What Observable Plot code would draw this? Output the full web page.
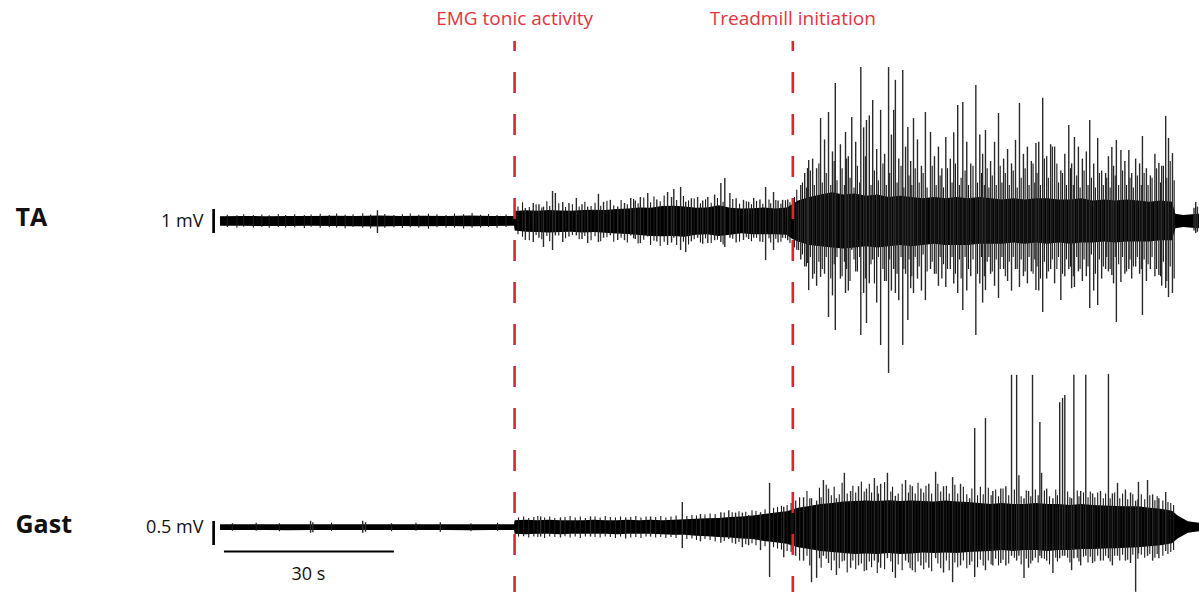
<!DOCTYPE html>
<html>
<head>
<meta charset="utf-8">
<script src="https://cdn.jsdelivr.net/npm/d3@7"></script>
<script src="https://cdn.jsdelivr.net/npm/@observablehq/plot@0.6"></script>
<style>
  html, body { margin: 0; padding: 0; background: #fff; }
  #chart svg { display: block; }
</style>
</head>
<body>
<div id="chart"></div>
<script>
// ---------- DATA (time in s, amplitude in mV) ----------
const channels = ["TA", "Gast"];
const scaleBarLabels = ["1 mV", "0.5 mV"];
const timeBarLabel = "30 s";
const eventTimes = [51.9, 101.0];
const eventLabels = ["EMG tonic activity", "Treadmill initiation"];

// envelope of the dense trace core: [time, upper, lower]
const taEnvelope = [
  [0,0.2,-0.2],[4,0.21,-0.2],[8,0.2,-0.21],[12,0.21,-0.21],[16,0.21,-0.2],[20,0.22,-0.21],[24,0.21,-0.22],
  [28,0.23,-0.23],[32,0.21,-0.21],[36,0.22,-0.22],[40,0.21,-0.21],[44,0.23,-0.22],[48,0.21,-0.21],[51.9,0.21,-0.2],
  [52,0.42,-0.4],[54,0.45,-0.45],[56,0.43,-0.46],[58,0.46,-0.48],[60,0.44,-0.46],[62,0.43,-0.45],[64,0.46,-0.48],
  [66,0.47,-0.46],[68,0.46,-0.49],[70,0.5,-0.52],[72,0.52,-0.54],[74,0.56,-0.58],[76,0.55,-0.62],[78,0.62,-0.64],
  [80,0.64,-0.62],[82,0.6,-0.66],[84,0.55,-0.57],[86,0.56,-0.55],[88,0.66,-0.62],[90,0.55,-0.57],[92,0.52,-0.51],
  [94,0.53,-0.55],[96,0.56,-0.55],[98,0.52,-0.55],[100,0.56,-0.57],
  [101,0.7,-0.75],[102,0.85,-0.85],[104,1.0,-1.0],[106,1.1,-1.05],[108,1.2,-1.1],[110,1.1,-1.15],[112,1.15,-1.1],
  [114,1.05,-1.05],[116,1.1,-1.1],[118,1.0,-1.05],[120,1.05,-1.0],[122,1.0,-1.05],[124,0.95,-1.0],[126,1.0,-0.95],
  [128,0.95,-1.0],[130,1.0,-1.0],[132,0.95,-1.0],[134,1.0,-0.95],[136,0.95,-0.95],[138,0.9,-0.95],[140,0.95,-0.9],
  [142,0.9,-0.95],[144,0.95,-0.9],[146,0.95,-0.95],[148,0.9,-0.9],[150,0.9,-0.95],[152,0.95,-0.9],[154,0.85,-0.9],
  [156,0.9,-0.85],[158,0.85,-0.9],[160,0.9,-0.85],[162,0.85,-0.85],[164,0.8,-0.85],[166,0.85,-0.8],[168,0.8,-0.8],
  [168.6,0.3,-0.3],[170,0.25,-0.25],[171.5,0.28,-0.28],[172.8,0.3,-0.3]
];

// tall individual spikes: [time, peak up, peak down]
const taSpikes = [
  [27.7,0.45,-0.5],
  [53.8,0.54,-0.79],[55.2,0.75,-0.88],[56.2,0.7,-0.7],[57.0,0.6,-1.08],[58.6,1.25,-1.21],[59.1,1.17,-0.6],
  [60.4,0.79,-0.88],[61.5,0.75,-0.65],[62.8,0.96,-0.6],[63.8,0.7,-0.75],[64.8,0.6,-0.92],[66.7,1.13,-0.88],
  [67.6,0.8,-0.7],[68.8,0.88,-0.6],[70.1,0.6,-0.79],[71.3,0.75,-0.8],[72.4,0.96,-0.6],[73.2,0.85,-0.75],
  [74.1,1.0,-0.92],[75.4,1.17,-0.65],[77.0,0.9,-0.85],[78.9,1.21,-1.0],[79.6,1.0,-0.9],[80.0,1.33,-0.7],
  [81.2,1.42,-1.21],[82.1,0.8,-1.29],[83.1,0.95,-0.85],[84.2,1.0,-0.7],[85.1,0.85,-0.95],[86.0,1.0,-0.92],
  [87.2,1.1,-0.8],[88.3,1.58,-0.88],[89.0,1.79,-1.08],[89.9,1.17,-0.7],[91.0,0.95,-0.9],[92.3,0.88,-0.79],
  [93.2,0.8,-0.75],[94.1,0.96,-0.7],[95.2,0.9,-0.85],[96.2,1.42,-1.63],[97.6,1.21,-1.21],[98.4,0.85,-0.9],
  [99.2,0.88,-0.7],[100.1,0.9,-0.8],[102.0,0.75,-1.21],[103.6,2.21,-1.75],
  [103.8,2.54,-2.88],[105.9,4.29,-2.33],[107.3,4.54,-4.0],[108.5,5.75,-4.54],[110.3,3.71,-3.0],[111.4,4.33,-1.2],
  [113.0,6.42,-4.75],[114.0,4.21,-4.25],[115.1,5.04,-1.6],[116.5,4.63,-5.17],[117.9,6.42,-6.33],[118.8,4.63,-2.0],
  [119.1,5.88,-3.0],[120.4,6.29,-5.17],[121.3,3.92,-4.13],[122.3,4.29,-3.0],[124.4,4.54,-3.29],[125.3,3.71,-2.0],
  [128.0,3.5,-2.75],[130.1,4.83,-3.0],[131.0,4.96,-3.71],[133.3,5.67,-4.75],[135.0,3.79,-2.88],[137.3,4.5,-3.21],
  [140.3,3.38,-2.0],[141.0,4.92,-2.75],[143.9,3.25,-2.88],[145.1,5.13,-3.79],[148.3,2.1,-3.29],[149.7,4.0,-2.0],
  [150.7,3.5,-2.75],[153.4,4.21,-3.63],[154.8,3.46,-3.5],[156.2,2.0,-2.0],[157.3,3.08,-2.25],[158.1,3.38,-4.21],
  [158.9,2.96,-2.54],[160.3,2.96,-2.0],[162.7,3.54,-3.92],[165.6,2.42,-2.25],[166.8,4.38,-2.79],[167.3,3.46,-3.17],
  [168.0,2.83,-3.0],
  [102.4,1.5,-1.6],[103.1,2.0,-1.9],[104.5,2.6,-2.4],[105.2,2.2,-2.7],[106.6,3.4,-2.2],[108.0,2.9,-3.1],
  [109.4,3.2,-2.4],[110.8,2.7,-2.9],[112.1,3.3,-2.1],[113.5,3.9,-3.0],[114.5,4.4,-2.6],[115.8,3.0,-3.4],
  [117.2,2.8,-2.5],[118.4,3.6,-2.9],[119.7,2.6,-3.3],[120.9,3.1,-2.2],[121.8,2.5,-2.8],[123.0,3.4,-2.4],
  [123.7,2.3,-2.9],[126.0,2.7,-2.2],[126.7,3.1,-2.7],[127.3,2.2,-2.4],[128.8,2.6,-2.0],[129.4,3.7,-2.6],
  [131.7,3.3,-2.9],[132.4,2.4,-2.3],[134.0,3.6,-2.6],[134.5,2.8,-3.4],[135.9,2.5,-2.2],[136.6,3.3,-2.7],
  [138.2,2.6,-2.0],[138.9,3.0,-2.5],[139.6,2.4,-2.9],[141.7,2.8,-2.3],[142.4,3.1,-2.6],[143.1,2.5,-2.1],
  [144.4,3.3,-2.9],[145.8,2.7,-2.4],[146.5,3.2,-2.0],[147.2,3.1,-2.6],[149.0,2.8,-2.3],[150.2,2.4,-2.8],
  [151.4,3.1,-2.1],[152.1,2.6,-2.5],[152.8,2.9,-2.3],[154.1,2.4,-2.9],[155.5,2.1,-2.4],[156.7,2.7,-2.1],
  [157.6,2.3,-2.6],[159.6,2.5,-2.2],[160.8,2.0,-2.4],[161.5,2.6,-1.9],[162.2,2.4,-2.2],[163.4,2.2,-2.5],
  [164.1,1.9,-2.0],[164.9,2.8,-2.3],[166.1,2.3,-2.7],
  [171.8,0.55,-0.4],[172.1,0.79,-0.5],[172.4,0.6,-0.45]
];

// small dense activity around the core: [time, up, down]
const taFuzz = [
  [1.2,0.26,-0.25],[2.9,0.24,-0.28],[4.1,0.28,-0.24],[5.8,0.25,-0.27],[7.3,0.27,-0.25],[8.6,0.24,-0.28],[10.2,0.29,-0.25],
  [11.5,0.25,-0.27],[13.1,0.28,-0.26],[14.8,0.25,-0.29],[16.0,0.27,-0.24],[17.6,0.3,-0.28],[19.2,0.25,-0.26],
  [20.5,0.31,-0.27],[22.0,0.26,-0.3],[23.4,0.28,-0.25],[25.1,0.32,-0.28],[26.5,0.27,-0.31],[29.0,0.29,-0.28],
  [30.6,0.25,-0.26],[32.1,0.28,-0.29],[33.5,0.31,-0.26],[35.0,0.26,-0.28],[36.7,0.3,-0.32],[38.2,0.28,-0.26],
  [39.8,0.25,-0.28],[41.3,0.31,-0.27],[42.9,0.28,-0.31],[44.4,0.33,-0.28],[45.9,0.26,-0.27],[47.3,0.29,-0.25],
  [48.8,0.25,-0.28],[50.4,0.27,-0.25],
  [52.5,0.6,-0.55],[53.3,0.78,-0.66],[54.5,0.58,-0.8],[55.7,0.7,-0.58],[56.7,0.56,-0.76],[57.6,0.82,-0.62],
  [58.1,0.62,-0.84],[59.7,0.74,-0.6],[60.9,0.58,-0.72],[62.1,0.7,-0.58],[63.3,0.6,-0.76],[64.3,0.8,-0.62],
  [65.4,0.62,-0.8],[66.1,0.76,-0.64],[67.1,0.64,-0.84],[68.2,0.84,-0.68],[69.4,0.66,-0.86],[70.7,0.88,-0.7],
  [71.8,0.7,-0.9],[72.9,0.92,-0.72],[73.7,0.74,-0.94],[74.7,0.98,-0.78],[75.9,0.78,-1.0],[76.5,1.02,-0.82],
  [77.6,0.82,-1.04],[78.3,1.06,-0.86],[80.5,0.88,-1.0],[81.7,1.04,-0.86],[82.6,0.86,-0.98],[83.6,0.94,-0.76],
  [84.7,0.74,-0.9],[85.6,0.9,-0.72],[86.6,0.76,-0.92],[87.7,0.96,-0.78],[88.7,0.8,-0.98],[90.4,0.92,-0.74],
  [91.6,0.72,-0.86],[92.8,0.82,-0.68],[93.7,0.7,-0.84],[94.6,0.84,-0.7],[95.7,0.72,-0.88],[96.8,0.9,-0.72],
  [97.1,0.74,-0.9],[98.0,0.88,-0.74],[98.9,0.72,-0.86],[99.7,0.86,-0.72],[100.5,0.78,-0.92],
  [101.3,1.0,-1.1],[101.7,1.3,-1.2],[102.7,1.6,-1.4],[103.4,1.4,-1.9],[104.1,2.1,-1.5],[104.8,1.5,-2.2],
  [105.6,2.4,-1.7],[106.2,1.6,-2.0],[106.9,2.0,-1.5],[107.7,1.5,-2.4],[108.3,2.5,-1.8],[108.8,1.7,-1.5],
  [109.7,2.2,-2.3],[110.1,1.5,-1.7],[110.5,2.6,-2.0],[111.1,1.8,-2.5],[111.8,1.4,-1.6],[112.4,2.3,-2.1],
  [112.8,1.6,-1.5],[113.8,2.7,-2.4],[114.8,1.5,-1.8],[115.4,2.1,-2.6],[116.1,1.7,-1.5],[116.9,2.4,-2.0],
  [117.5,1.5,-2.5],[118.1,2.0,-1.6],[119.4,1.6,-2.2],[120.1,2.3,-1.5],[120.6,1.4,-2.0],[121.5,1.9,-1.6],
  [122.0,1.5,-2.3],[122.6,2.2,-1.5],[123.3,1.6,-1.9],[124.0,2.0,-1.4],[124.7,1.4,-2.1],[125.6,2.3,-1.7],
  [126.3,1.5,-2.2],[127.0,1.9,-1.5],[127.6,1.4,-1.8],[128.3,2.2,-2.0],[129.1,1.6,-1.5],[129.7,2.4,-2.2],
  [130.4,1.5,-1.6],[130.7,1.8,-2.4],[131.4,2.1,-1.5],[132.0,1.5,-2.0],[132.8,2.3,-1.6],[133.6,1.6,-2.2],
  [134.3,2.0,-1.5],[134.8,1.5,-2.3],[135.3,2.2,-1.7],[135.6,1.4,-1.5],[136.2,1.9,-2.1],[136.9,1.5,-1.6],
  [137.6,2.3,-2.0],[137.9,1.6,-1.5],[138.5,2.0,-2.3],[139.2,1.5,-1.7],[139.9,2.1,-1.5],[140.6,1.4,-2.0],
  [141.3,1.8,-1.6],[142.0,2.2,-2.1],[142.7,1.5,-1.5],[143.4,2.4,-2.2],[143.7,1.6,-1.6],[144.1,2.0,-1.9],
  [144.7,1.5,-2.4],[145.4,2.6,-1.7],[146.1,1.8,-2.1],[146.8,3.1,-1.6],[147.6,2.4,-2.0],[147.9,1.6,-1.5],
  [148.6,2.0,-2.2],[149.3,1.5,-1.6],[150.0,2.2,-1.9],[150.5,1.5,-2.3],[151.1,1.9,-1.5],[151.7,1.4,-2.0],
  [152.4,2.1,-1.6],[153.1,1.5,-1.9],[153.7,1.8,-1.4],[154.4,1.4,-2.2],[155.1,2.0,-1.6],[155.8,1.5,-1.9],
  [156.4,1.8,-1.5],[157.0,1.4,-2.0],[157.9,1.9,-1.5],[158.5,1.5,-1.8],[159.2,2.1,-1.5],[159.9,1.5,-2.1],
  [160.5,1.8,-1.6],[161.1,1.4,-1.9],[161.8,1.9,-1.5],[162.5,1.5,-2.0],[163.0,2.0,-1.6],[163.7,1.5,-1.8],
  [164.4,1.8,-1.5],[165.2,2.2,-2.0],[165.9,1.6,-2.3],[166.4,2.3,-1.7],[167.0,1.8,-2.5],[167.6,2.5,-1.9],
  [168.3,1.7,-2.4]
];

const gastEnvelope = [
  [0,0.06,-0.06],[4,0.06,-0.06],[8,0.06,-0.06],[12,0.06,-0.07],[16,0.06,-0.06],[20,0.06,-0.06],[24,0.06,-0.06],
  [28,0.06,-0.06],[32,0.06,-0.06],[36,0.06,-0.06],[40,0.06,-0.06],[44,0.06,-0.07],[48,0.06,-0.06],[51.9,0.06,-0.06],
  [52,0.14,-0.14],[54,0.15,-0.15],[56,0.14,-0.14],[58,0.15,-0.14],[60,0.14,-0.15],[62,0.14,-0.14],[64,0.14,-0.14],
  [66,0.15,-0.14],[68,0.14,-0.14],[70,0.14,-0.15],[72,0.15,-0.14],[74,0.14,-0.14],[76,0.15,-0.14],[78,0.14,-0.15],
  [80,0.15,-0.16],[82,0.16,-0.16],[84,0.17,-0.18],[86,0.18,-0.19],[88,0.19,-0.21],[90,0.21,-0.22],[92,0.22,-0.24],
  [94,0.24,-0.25],[96,0.27,-0.29],[98,0.3,-0.32],[100,0.33,-0.35],
  [102,0.4,-0.42],[104,0.44,-0.46],[106,0.48,-0.5],[108,0.5,-0.52],[110,0.53,-0.54],[112,0.54,-0.56],
  [114,0.55,-0.55],[116,0.54,-0.56],[118,0.56,-0.54],[120,0.54,-0.56],[122,0.55,-0.55],[124,0.54,-0.53],
  [126,0.53,-0.54],[128,0.55,-0.53],[130,0.53,-0.54],[132,0.52,-0.52],[134,0.5,-0.51],[136,0.48,-0.5],
  [138,0.5,-0.48],[140,0.48,-0.5],[142,0.48,-0.48],[144,0.5,-0.48],[146,0.48,-0.5],[148,0.48,-0.48],[150,0.46,-0.48],
  [152,0.48,-0.46],[154,0.46,-0.46],[156,0.45,-0.45],[158,0.44,-0.44],[160,0.43,-0.43],[162,0.43,-0.42],
  [164,0.4,-0.4],[166,0.38,-0.38],[168,0.34,-0.34],
  [169.0,0.24,-0.24],[170.8,0.12,-0.12],[172.8,0.09,-0.09]
];

const gastSpikes = [
  [15.9,0.13,-0.12],[16.3,0.1,-0.11],[25.1,0.13,-0.12],[25.6,0.1,-0.1],[38.8,0.1,-0.1],
  [56.5,0.22,-0.2],[60.0,0.2,-0.22],[65.3,0.22,-0.2],[71.5,0.2,-0.24],[75.9,0.22,-0.2],[81.5,0.52,-0.44],
  [84.7,0.27,-0.3],[88.3,0.31,-0.33],[89.7,0.35,-0.25],[90.9,0.3,-0.35],[92.1,0.3,-0.42],[93.2,0.25,-0.38],
  [95.3,0.31,-0.48],[96.9,0.92,-1.04],[99.4,0.42,-0.63],
  [104.3,0.6,-1.15],[105.2,0.55,-1.06],[106.4,0.98,-0.6],[108.7,0.6,-1.0],[110.1,1.13,-0.7],[115.4,1.02,-0.7],
  [117.7,1.13,-0.65],[119.1,0.65,-1.06],[120.9,0.98,-0.7],[126.2,1.15,-0.65],[129.2,1.04,-1.15],[132.2,0.6,-0.79],
  [133.1,2.06,-1.04],[135.0,2.27,-0.9],[139.6,3.17,-0.6],[140.5,3.17,-0.7],[140.9,1.08,-0.6],[141.8,0.6,-1.06],
  [143.3,3.17,-0.7],[144.6,2.19,-0.6],[144.9,1.13,-0.65],[146.9,0.6,-0.96],[148.1,2.6,-0.65],[148.6,2.69,-0.6],
  [149.0,2.75,-0.6],[150.2,0.6,-0.9],[150.6,3.17,-0.65],[152.7,3.17,-0.6],[156.7,3.19,-0.65],[158.3,0.92,-0.6],
  [161.5,0.55,-1.35],[162.0,0.94,-0.55],[163.6,0.98,-0.6],[166.8,0.73,-0.5],
  [101.5,0.55,-0.6],[102.9,0.62,-0.7],[107.3,0.8,-0.75],[111.2,0.75,-0.85],[112.6,0.85,-0.8],[114.0,0.8,-0.9],
  [116.5,0.9,-0.85],[122.1,0.85,-0.9],[123.6,0.8,-0.8],[125.0,0.9,-0.85],[127.6,0.85,-0.95],[130.6,0.9,-0.8],
  [136.3,0.75,-0.8],[137.7,0.8,-0.75],[138.6,0.85,-0.8],[142.6,0.75,-0.85],[145.8,0.8,-0.7],[151.8,0.75,-0.8],
  [153.9,0.7,-0.75],[155.3,0.75,-0.7],[157.4,0.7,-0.8],[159.7,0.78,-0.7],[160.6,0.72,-0.75],[164.5,0.68,-0.7],
  [165.6,0.6,-0.65]
];

const gastFuzz = [
  [2.1,0.08,-0.08],[6.3,0.09,-0.08],[10.4,0.08,-0.09],[19.6,0.09,-0.08],[30.2,0.08,-0.09],[34.5,0.09,-0.08],
  [44.2,0.08,-0.09],[48.9,0.09,-0.08],
  [52.6,0.2,-0.2],[53.5,0.22,-0.19],[54.4,0.19,-0.22],[55.3,0.21,-0.2],[56.0,0.23,-0.21],[57.2,0.2,-0.23],
  [58.1,0.22,-0.2],[59.0,0.19,-0.21],[60.8,0.21,-0.19],[61.7,0.23,-0.22],[62.6,0.2,-0.2],[63.5,0.22,-0.23],
  [64.4,0.19,-0.2],[66.1,0.22,-0.21],[67.0,0.2,-0.22],[67.9,0.23,-0.2],[68.8,0.21,-0.21],[69.7,0.2,-0.23],
  [70.6,0.22,-0.2],[72.4,0.21,-0.22],[73.3,0.23,-0.21],[74.2,0.2,-0.23],[75.1,0.22,-0.2],[76.8,0.21,-0.22],
  [77.7,0.23,-0.21],[78.6,0.2,-0.23],[79.5,0.22,-0.21],[80.4,0.24,-0.23],[82.3,0.23,-0.25],[83.2,0.25,-0.24],
  [84.0,0.24,-0.27],[85.5,0.26,-0.25],[86.4,0.28,-0.27],[87.3,0.27,-0.3],[88.9,0.3,-0.29],[90.3,0.31,-0.33],
  [91.5,0.33,-0.31],[92.7,0.32,-0.36],[93.8,0.35,-0.34],[94.5,0.34,-0.38],[96.1,0.37,-0.4],[97.6,0.4,-0.42],
  [98.3,0.42,-0.45],[99.0,0.44,-0.47],[100.0,0.46,-0.5],[100.7,0.5,-0.52],
  [101.0,0.5,-0.55],[102.2,0.62,-0.7],[103.5,0.75,-0.6],[104.0,0.6,-0.8],[105.7,0.82,-0.65],[106.0,0.62,-0.85],
  [106.9,0.88,-0.66],[107.8,0.66,-0.9],[108.3,0.84,-0.7],[109.2,0.68,-0.86],[109.7,0.92,-0.72],[110.6,0.7,-0.95],
  [111.6,0.86,-0.7],[112.1,0.72,-0.88],[113.1,0.95,-0.76],[113.6,0.74,-0.92],[114.5,0.9,-0.72],[114.9,0.72,-0.84],
  [115.9,0.86,-0.96],[116.1,0.7,-0.74],[117.2,0.94,-0.88],[118.3,0.74,-0.72],[118.6,0.84,-0.94],[119.6,0.7,-0.78],
  [120.3,0.9,-0.9],[121.4,0.72,-0.74],[121.7,0.88,-0.86],[122.6,0.7,-0.94],[123.1,0.92,-0.72],[124.1,0.72,-0.88],
  [124.5,0.86,-0.74],[125.5,0.7,-0.92],[126.6,0.9,-0.76],[127.1,0.74,-0.86],[128.1,0.86,-0.7],[128.6,0.7,-0.9],
  [129.6,0.88,-0.74],[130.1,0.7,-0.84],[131.1,0.84,-0.7],[131.7,0.68,-0.86],[132.6,0.8,-0.72],[133.6,0.66,-0.84],
  [134.1,0.84,-0.68],[134.6,0.68,-0.8],[135.5,0.82,-0.7],[136.0,0.66,-0.78],[136.8,0.78,-0.66],[137.3,0.64,-0.8],
  [138.1,0.8,-0.68],[139.1,0.66,-0.76],[140.1,0.78,-0.64],[141.3,0.64,-0.78],[142.2,0.76,-0.66],[143.0,0.64,-0.76],
  [143.8,0.78,-0.64],[144.3,0.66,-0.74],[145.4,0.76,-0.66],[146.3,0.64,-0.78],[147.4,0.78,-0.64],[147.7,0.66,-0.72],
  [149.5,0.74,-0.64],[149.9,0.62,-0.74],[151.2,0.76,-0.64],[151.5,0.64,-0.72],[152.3,0.72,-0.62],[153.1,0.62,-0.74],
  [153.5,0.74,-0.62],[154.3,0.62,-0.72],[154.8,0.72,-0.6],[155.8,0.6,-0.7],[156.2,0.7,-0.6],[157.0,0.6,-0.72],
  [157.8,0.72,-0.6],[158.7,0.6,-0.7],[159.2,0.7,-0.58],[160.1,0.58,-0.68],[161.0,0.68,-0.58],[161.9,0.58,-0.66],
  [162.5,0.68,-0.58],[163.1,0.58,-0.64],[164.0,0.66,-0.56],[164.9,0.56,-0.64],[165.3,0.64,-0.56],[166.3,0.55,-0.6],
  [167.2,0.52,-0.56],[167.7,0.5,-0.52],[168.2,0.46,-0.48]
];

// ---------- LAYOUT ----------
// one shared y scale in "TA mV" units; Gast trace is shifted down and shown at 0.5 mV per TA-mV unit
const gastOffset = -12.75;
const gastGain = 2;
const gy = v => gastOffset + gastGain * v;

const red = "#e1222f";
const redText = "#e2343f";
const font = "'Open Sans', 'DejaVu Sans', sans-serif";

const yTop = 9.208, yBottom = -15.458;
const dashTop = 7.5;

const spikeMark = (data, f, stroke, w) =>
  Plot.ruleX(data, { x: d => d[0], y1: d => f(d[2]), y2: d => f(d[1]), stroke, strokeWidth: w });
const id = v => v;

const chart = Plot.plot({
  width: 1199,
  height: 592,
  margin: 0,
  x: { domain: [-38.82, 172.77], axis: null },
  y: { domain: [yBottom, yTop], axis: null },
  style: { fontFamily: font, background: "#fff", overflow: "visible" },
  marks: [
    // TA trace
    Plot.areaY(taEnvelope, { x: d => d[0], y1: d => d[2], y2: d => d[1], fill: "#000", curve: "linear" }),
    spikeMark(taFuzz, id, "#1a1a1a", 1.1),
    spikeMark(taSpikes, id, "#2a2a2a", 1.4),
    // Gast trace
    Plot.areaY(gastEnvelope, { x: d => d[0], y1: d => gy(d[2]), y2: d => gy(d[1]), fill: "#000", curve: "linear" }),
    spikeMark(gastFuzz, gy, "#1a1a1a", 1.1),
    spikeMark(gastSpikes, gy, "#2a2a2a", 1.4),

    // scale bars
    Plot.ruleX([0], { x: -1.21, y1: -0.5, y2: 0.5, stroke: "#000", strokeWidth: 2.7 }),
    Plot.ruleX([0], { x: -1.21, y1: gy(-0.375), y2: gy(0.125), stroke: "#000", strokeWidth: 2.7 }),
    Plot.ruleY([0], { y: -13.75, x1: 0.7, x2: 30.7, stroke: "#000", strokeWidth: 2 }),

    // event lines
    Plot.ruleX(eventTimes, { x: d => d, y1: dashTop, y2: yBottom, stroke: red, strokeWidth: 2.6,
      strokeDasharray: "21,21", strokeDashoffset: 11 }),
    Plot.text(eventLabels, { x: (d, i) => eventTimes[i], y: 8.46, text: d => d, fill: redText,
      fontSize: 19, textAnchor: "middle" }),

    // channel labels
    Plot.text(channels, { x: -36.17, y: (d, i) => i === 0 ? 0.146 : -12.625, text: d => d,
      textAnchor: "start", fontSize: 25, fontWeight: "bold", fill: "#111" }),
    Plot.text(scaleBarLabels, { x: -3.0, y: (d, i) => i === 0 ? 0.0 : -12.75, text: d => d,
      textAnchor: "end", fontSize: 18, fill: "#111" }),
    Plot.text([timeBarLabel], { x: 15.5, y: -14.71, text: d => d, textAnchor: "middle", fontSize: 18, fill: "#111" })
  ]
});

document.getElementById("chart").appendChild(chart);
</script>
</body>
</html>
